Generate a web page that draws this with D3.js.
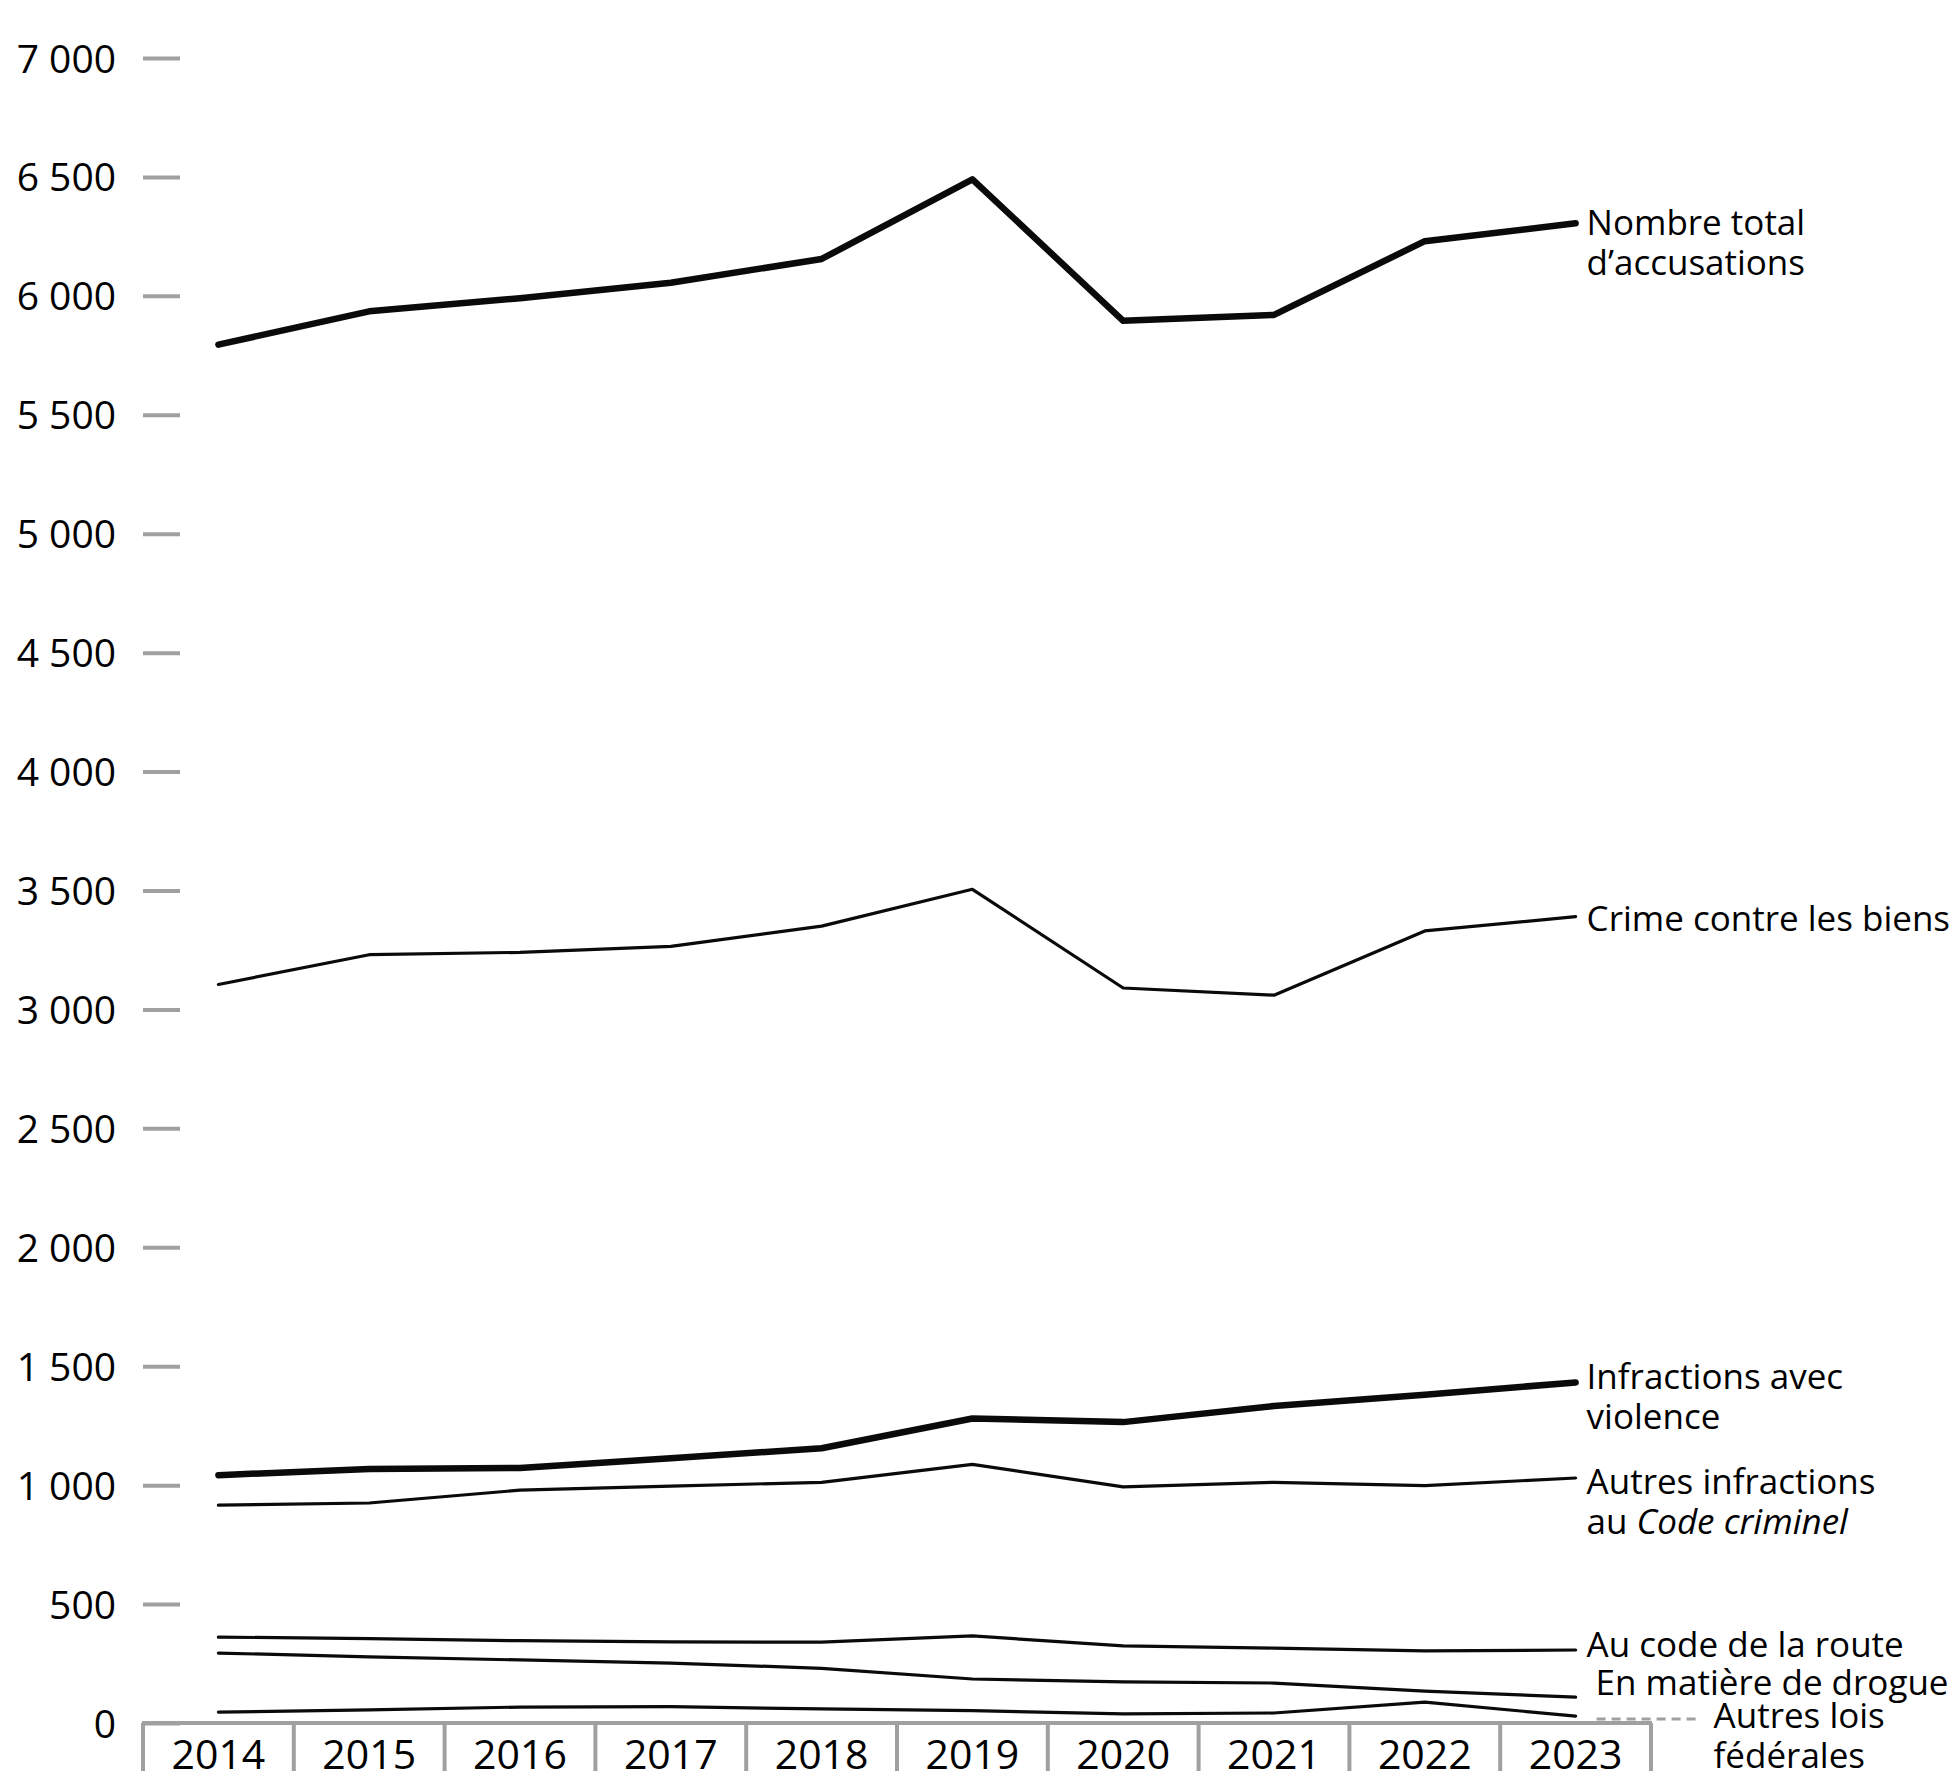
<!DOCTYPE html>
<html>
<head>
<meta charset="utf-8">
<script src="https://cdn.jsdelivr.net/npm/d3@7"></script>
<style>
  html, body { margin: 0; padding: 0; background: #fff; }
  svg { display: block; font-family: "Open Sans", "Noto Sans", sans-serif; }
</style>
</head>
<body>
<div id="chart"></div>
<script>
// données
const years = ["2014", "2015", "2016", "2017", "2018", "2019", "2020", "2021", "2022", "2023"];
const totalAccusations = [5795, 5935, 5990, 6055, 6155, 6490, 5895, 5920, 6230, 6305];
const crimeBiens = [3105, 3230, 3240, 3265, 3350, 3505, 3090, 3060, 3330, 3390];
const violence = [1042, 1068, 1072, 1113, 1155, 1280, 1265, 1333, 1380, 1432];
const autresCode = [916, 925, 979, 996, 1012, 1087, 993, 1012, 998, 1030];
const codeRoute = [361, 355, 346, 341, 340, 366, 324, 315, 303, 307];
const drogue = [294, 278, 265, 252, 230, 185, 173, 168, 134, 109];
const autresLois = [46, 55, 67, 69, 59, 52, 38, 42, 88, 29];
const yTicks = d3.range(0, 7001, 500);

const width = 1950, height = 1771;
const margin = { top: 58, left: 143, right: 299, bottom: 48 };

const series = [
    { name: "total", values: totalAccusations, lines: [["Nombre total"], ["d\u2019accusations"]], thick: true, dy: 0, dx: 0 },
    { name: "biens", values: crimeBiens, lines: [["Crime contre les biens"]], thick: false, dy: 2, dx: 0 },
    { name: "violence", values: violence, lines: [["Infractions avec"], ["violence"]], thick: true, dy: -5, dx: 0 },
    { name: "autres", values: autresCode, lines: [["Autres infractions"], ["au ", ["Code criminel"]]], thick: false, dy: 4, dx: 0 },
    { name: "route", values: codeRoute, lines: [["Au code de la route"]], thick: false, dy: -5, dx: 0 },
    { name: "drogue", values: drogue, lines: [["En mati\u00e8re de drogue"]], thick: false, dy: -14, dx: 9 },
    { name: "lois", values: autresLois, lines: [["Autres lois"], ["f\u00e9d\u00e9rales"]], thick: false, dy: 0, dx: 127, leader: true }
];

const svg = d3.select("#chart").append("svg")
    .attr("width", width)
    .attr("height", height)
    .attr("viewBox", `0 0 ${width} ${height}`);

const x = d3.scaleBand()
    .domain(years)
    .range([margin.left, width - margin.right])
    .padding(0);
const cx = d => x(d) + x.bandwidth() / 2;

const y = d3.scaleLinear()
    .domain([0, 7000])
    .range([height - margin.bottom, margin.top]);

const fr = d3.formatLocale({ decimal: ",", thousands: "\u00a0", grouping: [3], currency: ["", "$"] });

// axe vertical
const yAxis = svg.append("g")
    .attr("transform", `translate(${margin.left + 37},0)`)
    .call(d3.axisLeft(y).tickValues(yTicks).tickSize(37).tickPadding(27).tickFormat(fr.format(",d")));
yAxis.select(".domain").remove();
yAxis.selectAll(".tick line").attr("stroke", "#a0a0a0").attr("stroke-width", 4);
yAxis.selectAll(".tick text")
    .attr("fill", "#000")
    .attr("font-size", 39)
    .attr("font-family", "Open Sans, sans-serif")
    .attr("dy", "0.36em");

// boîte de l'axe horizontal
const base = y(0);
const xg = svg.append("g").attr("class", "x-axis");
xg.append("line")
    .attr("x1", margin.left - 1).attr("x2", width - margin.right + 1)
    .attr("y1", base).attr("y2", base)
    .attr("stroke", "#a0a0a0").attr("stroke-width", 4);
xg.selectAll("line.sep")
    .data(years.concat(["fin"]))
    .join("line")
    .attr("class", "sep")
    .attr("x1", d => d === "fin" ? width - margin.right : x(d))
    .attr("x2", d => d === "fin" ? width - margin.right : x(d))
    .attr("y1", base).attr("y2", height + 5)
    .attr("stroke", "#a0a0a0").attr("stroke-width", 4);
xg.selectAll("text")
    .data(years)
    .join("text")
    .attr("x", d => cx(d))
    .attr("y", height - 2)
    .attr("text-anchor", "middle")
    .attr("font-size", 41)
    .text(d => d);

// courbes
const line = d3.line()
    .x((d, i) => cx(years[i]))
    .y(d => y(d));

svg.append("g").selectAll("path")
    .data(series)
    .join("path")
    .attr("d", d => line(d.values))
    .attr("fill", "none")
    .attr("stroke", "#0a0a0a")
    .attr("stroke-width", d => d.thick ? 6.5 : 3.2)
    .attr("stroke-linejoin", "round")
    .attr("stroke-linecap", "round");

// étiquettes
const labelX = cx(years[years.length - 1]) + 11;
const lineH = 40;
const textShift = 12;
const labels = svg.append("g").attr("font-size", 35);
series.forEach(s => {
    const yLast = y(s.values[s.values.length - 1]) + s.dy;
    const t = labels.append("text")
        .attr("x", labelX + s.dx)
        .attr("y", yLast + textShift)
        .attr("dy", "0.36em");
    s.lines.forEach((parts, i) => {
        parts.forEach((p, j) => {
            const ts = t.append("tspan");
            if (j === 0) ts.attr("x", labelX + s.dx).attr("dy", i === 0 ? 0 : lineH);
            if (Array.isArray(p)) ts.attr("font-style", "italic").text(p[0]);
            else ts.text(p);
        });
    });
    if (s.leader) {
        labels.append("line")
            .attr("x1", labelX + 10).attr("x2", labelX + s.dx - 12)
            .attr("y1", yLast + 3).attr("y2", yLast + 3)
            .attr("stroke", "#a0a0a0")
            .attr("stroke-width", 3)
            .attr("stroke-dasharray", "9,6");
    }
});
</script>
</body>
</html>
